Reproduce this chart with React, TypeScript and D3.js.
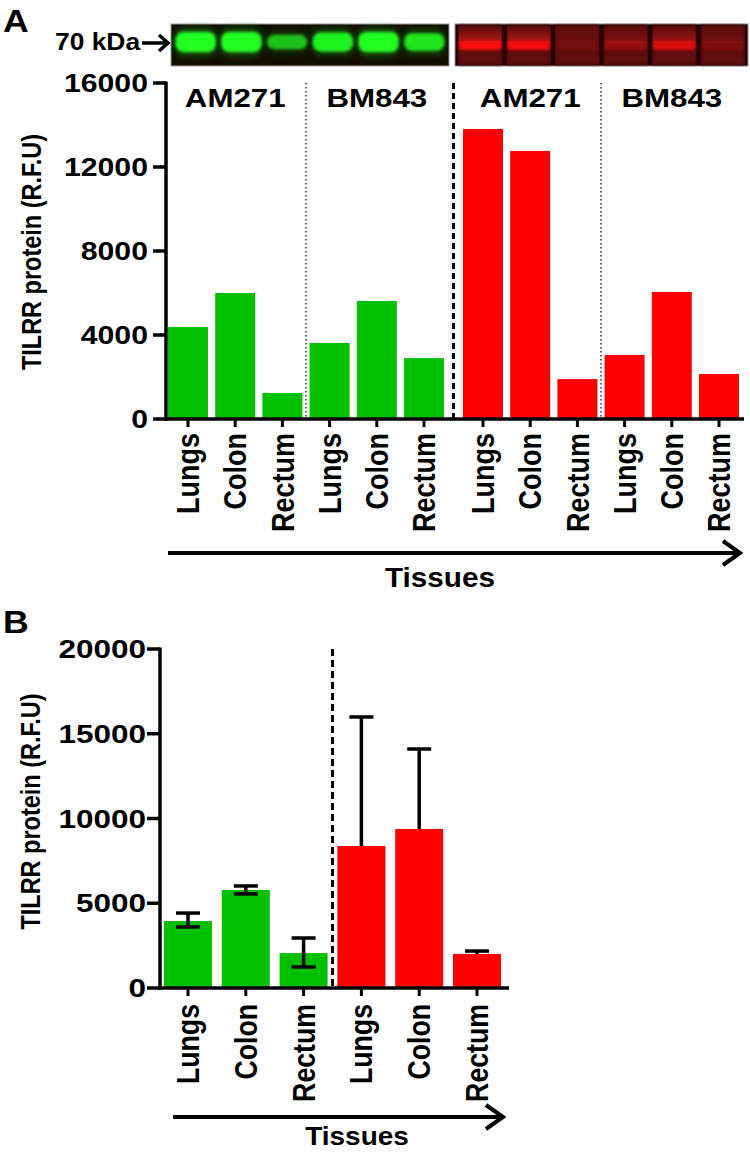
import React from "react";
import * as d3 from "d3";

// ---------- DATA ----------
const tissues = ["Lungs", "Colon", "Rectum"];
const groupsA = ["AM271", "BM843", "AM271", "BM843"];
const greenA = [4380, 6000, 1240, 3620, 5620, 2900];
const redA = [13810, 12760, 1900, 3050, 6050, 2140];
const ticksA = [0, 4000, 8000, 12000, 16000];

const meanB = [3950, 5780, 2060, 8380, 9380, 2010];
const errHighB = [4420, 6020, 2950, 15990, 14100, 2180];
const errLowB: (number | null)[] = [3600, 5550, 1240, null, null, null];
const ticksB = [0, 5000, 10000, 15000, 20000];

const greenBands = [1, 1, 0.55, 0.9, 1, 0.8];
const redBands = [1, 0.95, 0.12, 0.35, 0.75, 0.18];

const GREEN = "#00c000";
const RED = "#ff0000";
const FONT = "'Liberation Sans', Arial, Helvetica, sans-serif";

type TP = {
  x: number; y: number; size: number; sx?: number; rot?: number;
  anchor?: string; dy?: string; weight?: string; children: React.ReactNode;
};
const T = ({ x, y, size, sx = 1.18, rot = 0, anchor = "start", dy, weight = "bold", children }: TP) => (
  <text
    transform={`translate(${x},${y}) scale(${sx},1) rotate(${rot})`}
    fontSize={size}
    fontWeight={weight}
    textAnchor={anchor}
    dy={dy}
    fill="#000"
  >
    {children}
  </text>
);

const Arrow = ({ x1, x2, y }: { x1: number; x2: number; y: number }) => (
  <g stroke="#000" strokeWidth={4} fill="none">
    <line x1={x1} x2={x2 - 2} y1={y} y2={y} />
    <polyline points={`${x2 - 17},${y - 12} ${x2},${y} ${x2 - 17},${y + 12}`} strokeLinejoin="miter" />
  </g>
);

export default function App() {
  // ---------- Panel A scales ----------
  const yA = d3.scaleLinear().domain([0, 16000]).range([419, 83]);
  const slotA = (i: number) => i + (i >= 6 ? 0.25 : 0);
  const xA = d3.scaleLinear().domain([0, 12.25]).range([164.4, 742.6]);
  const padA = 3.6;
  const valuesA = [...greenA, ...redA];
  const barsA = valuesA.map((v, i) => ({
    v, i,
    x0: xA(slotA(i)) + padA,
    x1: xA(slotA(i) + 1) - padA,
    color: i < 6 ? GREEN : RED,
    label: tissues[i % 3],
  }));
  const groupCentersA = [0, 3, 6.25, 9.25].map((s) => (xA(s) + xA(s + 3)) / 2);

  // ---------- Panel B scales ----------
  const yB = d3.scaleLinear().domain([0, 20000]).range([988, 649]);
  const xB = d3.scaleLinear().domain([0, 6]).range([159.1, 505.9]);
  const padB = 4.9;
  const barsB = meanB.map((v, i) => ({
    v, i,
    x0: xB(i) + padB,
    x1: xB(i + 1) - padB,
    color: i < 3 ? GREEN : RED,
    label: tissues[i % 3],
    hi: errHighB[i],
    lo: errLowB[i],
  }));

  // ---------- Blot scales ----------
  const laneG = d3.scaleBand<number>().domain(d3.range(6)).range([171, 449]).paddingInner(0.12).paddingOuter(0.1);
  const laneR = d3.scaleBand<number>().domain(d3.range(6)).range([455, 748]).paddingInner(0.08).paddingOuter(0.06);

  return (
    <svg
      width={750}
      height={1152}
      style={{ position: "absolute", left: 0, top: 0, background: "#fff" }}
      fontFamily={FONT}
    >
      <defs>
        <filter id="blur2" x="-30%" y="-60%" width="160%" height="220%">
          <feGaussianBlur stdDeviation="1.8" />
        </filter>
        <filter id="blur4" x="-30%" y="-80%" width="160%" height="260%">
          <feGaussianBlur stdDeviation="3.5" />
        </filter>
        <linearGradient id="redGlow" x1="0" y1="0" x2="0" y2="1">
          <stop offset="0" stopColor="#ff2020" stopOpacity="0.05" />
          <stop offset="1" stopColor="#ff2020" stopOpacity="0.55" />
        </linearGradient>
      </defs>

      {/* ---------- Blot ---------- */}
      <rect x={171} y={24} width={278} height={42} fill="#140d03" stroke="#999" strokeWidth={1} />
      {greenBands.map((b, i) => {
        const x = laneG(i)!;
        const w = laneG.bandwidth();
        const h = 8 + 12 * b;
        return (
          <g key={"g" + i}>
            <rect x={x - 1} y={42 - h / 2 - 4} width={w + 2} height={h + 8} rx={9} fill="#0a8a0a" opacity={0.55 * b} filter="url(#blur4)" />
            <rect x={x} y={42 - h / 2} width={w} height={h} rx={8} fill="#22ff22" opacity={0.35 + 0.65 * b} filter="url(#blur2)" />
          </g>
        );
      })}
      <rect x={455} y={24} width={293} height={42} fill="#140000" stroke="#999" strokeWidth={1} />
      {redBands.map((b, i) => {
        const x = laneR(i)!;
        const w = laneR.bandwidth();
        return (
          <g key={"r" + i}>
            <rect x={x} y={25} width={w} height={40} fill="#600808" filter="url(#blur2)" />
            <rect x={x + 1} y={28} width={w - 2} height={15} fill="url(#redGlow)" opacity={b} />
            <rect x={x + 1} y={41} width={w - 2} height={9} rx={3} fill="#ff1010" opacity={b} filter="url(#blur2)" />
          </g>
        );
      })}
      <T x={55} y={50} size={24} sx={1.1}>70 kDa</T>
      <g stroke="#000" strokeWidth={3.5} fill="none">
        <line x1={142} x2={168} y1={43} y2={43} />
        <polyline points="159,35 168,43 159,51" />
      </g>

      {/* ---------- Panel A ---------- */}
      <T x={3} y={32} size={31} sx={1.15}>A</T>

      {barsA.map((b) => (
        <rect key={"a" + b.i} x={b.x0} y={yA(b.v)} width={b.x1 - b.x0} height={yA(0) - yA(b.v)} fill={b.color} />
      ))}

      {/* dividers */}
      <line x1={xA(3)} x2={xA(3)} y1={yA(16000)} y2={yA(0)} stroke="#333" strokeWidth={1.5} strokeDasharray="1.5,2.5" />
      <line x1={xA(6.125)} x2={xA(6.125)} y1={yA(16000)} y2={yA(0)} stroke="#000" strokeWidth={3} strokeDasharray="6,4" />
      <line x1={xA(9.25)} x2={xA(9.25)} y1={yA(16000)} y2={yA(0)} stroke="#333" strokeWidth={1.5} strokeDasharray="1.5,2.5" />

      {groupsA.map((g, i) => (
        <T key={"ga" + i} x={groupCentersA[i]} y={107} size={26.5} anchor="middle">{g}</T>
      ))}

      {/* y axis A */}
      <line x1={166} x2={166} y1={yA(16000) - 1.5} y2={yA(0) + 1.7} stroke="#000" strokeWidth={3.5} />
      {ticksA.map((t) => (
        <g key={"ta" + t}>
          <line x1={153} x2={166} y1={yA(t)} y2={yA(t)} stroke="#000" strokeWidth={3.5} />
          <T x={148} y={yA(t)} size={25} sx={1.21} anchor="end" dy="0.36em">{t}</T>
        </g>
      ))}
      <T x={41} y={(yA(0) + yA(16000)) / 2 + 1} size={23.5} rot={-90} anchor="middle">TILRR protein (R.F.U)</T>

      {/* x axis A */}
      <line x1={164.5} x2={744} y1={yA(0)} y2={yA(0)} stroke="#000" strokeWidth={3.5} />
      {barsA.map((b) => {
        const cx = (b.x0 + b.x1) / 2;
        return (
          <g key={"xa" + b.i}>
            <line x1={cx} x2={cx} y1={yA(0)} y2={yA(0) + 8} stroke="#000" strokeWidth={3} />
            <T x={cx} y={433} size={27} rot={-90} anchor="end" dy="0.35em">{b.label}</T>
          </g>
        );
      })}
      <Arrow x1={barsA[0].x0} x2={barsA[11].x1 + 1} y={553} />
      <T x={440} y={587} size={27} sx={1.1} anchor="middle">Tissues</T>

      {/* ---------- Panel B ---------- */}
      <T x={3} y={633} size={31} sx={1.15}>B</T>

      {barsB.map((b) => (
        <rect key={"b" + b.i} x={b.x0} y={yB(b.v)} width={b.x1 - b.x0} height={yB(0) - yB(b.v)} fill={b.color} />
      ))}
      <line x1={xB(3)} x2={xB(3)} y1={yB(20000)} y2={yB(0)} stroke="#000" strokeWidth={3} strokeDasharray="7,4" />

      {barsB.map((b) => {
        const cx = (b.x0 + b.x1) / 2;
        const lo = b.lo == null ? b.v : b.lo;
        return (
          <g key={"eb" + b.i} stroke="#000" strokeWidth={3.5}>
            <line x1={cx} x2={cx} y1={yB(b.hi)} y2={yB(lo)} />
            <line x1={cx - 12} x2={cx + 12} y1={yB(b.hi)} y2={yB(b.hi)} />
            {b.lo != null && <line x1={cx - 12} x2={cx + 12} y1={yB(b.lo)} y2={yB(b.lo)} />}
          </g>
        );
      })}

      <line x1={160} x2={160} y1={yB(20000) - 1.5} y2={yB(0) + 1.7} stroke="#000" strokeWidth={3.5} />
      {ticksB.map((t) => (
        <g key={"tb" + t}>
          <line x1={147} x2={160} y1={yB(t)} y2={yB(t)} stroke="#000" strokeWidth={3.5} />
          <T x={146} y={yB(t)} size={25} sx={1.26} anchor="end" dy="0.36em">{t}</T>
        </g>
      ))}
      <T x={40} y={(yB(0) + yB(20000)) / 2 - 7} size={23.5} rot={-90} anchor="middle">TILRR protein (R.F.U)</T>

      <line x1={158.5} x2={509} y1={yB(0)} y2={yB(0)} stroke="#000" strokeWidth={3.5} />
      {barsB.map((b) => {
        const cx = (b.x0 + b.x1) / 2;
        return (
          <g key={"xb" + b.i}>
            <line x1={cx} x2={cx} y1={yB(0)} y2={yB(0) + 8} stroke="#000" strokeWidth={3} />
            <T x={cx} y={1004} size={26.7} rot={-90} anchor="end" dy="0.35em">{b.label}</T>
          </g>
        );
      })}
      <Arrow x1={173} x2={503} y={1117} />
      <T x={357} y={1145} size={25} sx={1.12} anchor="middle">Tissues</T>
    </svg>
  );
}
